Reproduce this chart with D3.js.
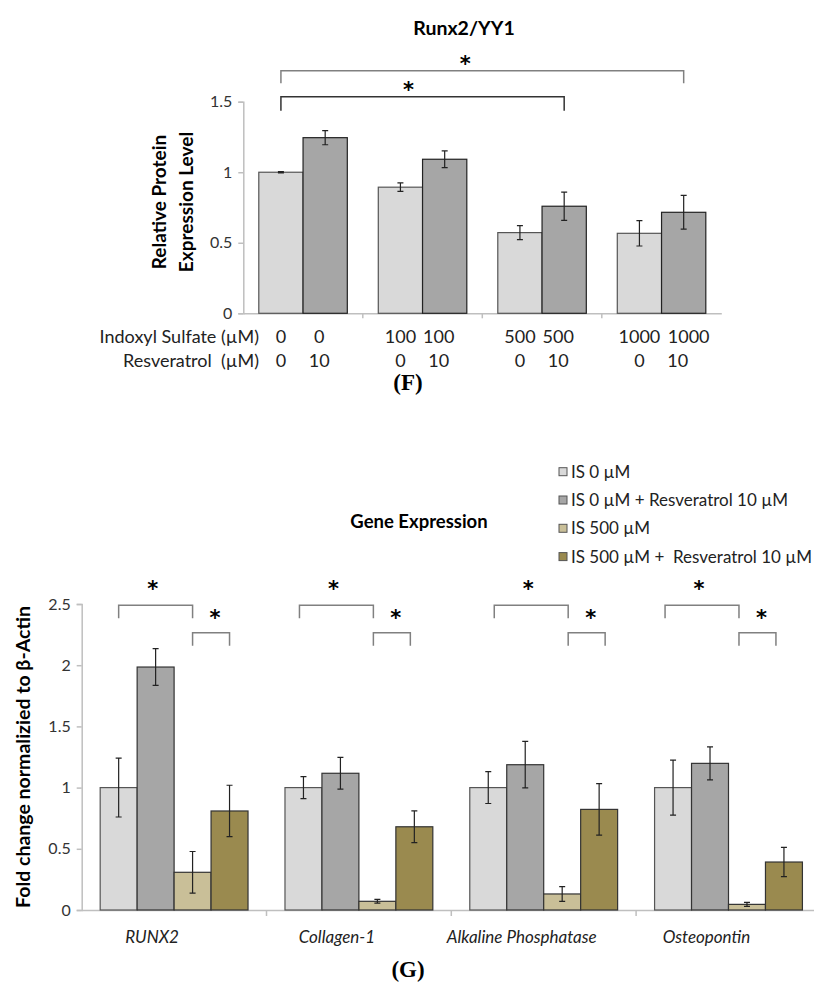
<!DOCTYPE html>
<html>
<head>
<meta charset="utf-8">
<script src="https://cdn.jsdelivr.net/npm/d3@7"></script>
<style>
  body { margin: 0; background: #fff; }
  svg { display: block; font-family: Lato, "Open Sans", sans-serif; }
  .axis path, .axis line { stroke: #bfbfbf; stroke-width: 1.5; }
  .axis text { fill: #333; font-size: 16px; font-family: Lato, sans-serif; }
  .star { font-family: "DejaVu Sans", sans-serif; font-weight: bold; font-size: 21px; }
</style>
</head>
<body>
<svg id="chart" width="814" height="987"></svg>
<script>

// DATA — panel F (Runx2/YY1)
const isLevelsF = ['0', '100', '500', '1000'];
const seriesF = ['IS', 'IS + Resveratrol 10 µM'];
const plainF = [1.0, 0.894, 0.572, 0.567];
const plainErrF = [0.005, 0.03, 0.05, 0.09];
const resvF = [1.245, 1.092, 0.759, 0.716];
const resvErrF = [0.05, 0.06, 0.1, 0.12];
const isRowF = ['0', '0', '100', '100', '500', '500', '1000', '1000'];
const resRowF = ['0', '10', '0', '10', '0', '10', '0', '10'];
const ticksF = [0, 0.5, 1, 1.5];

// DATA — panel G (gene expression)
const genes = ['RUNX2', 'Collagen-1', 'Alkaline Phosphatase', 'Osteopontin'];
const seriesG = ['IS 0 µM', 'IS 0 µM + Resveratrol 10 µM', 'IS 500 µM', 'IS 500 µM +  Resveratrol 10 µM'];
const is0 = [1.0, 1.0, 1.0, 1.0];
const is0Err = [0.24, 0.09, 0.13, 0.225];
const is0Res = [1.985, 1.117, 1.187, 1.198];
const is0ResErr = [0.15, 0.13, 0.19, 0.135];
const is500 = [0.308, 0.071, 0.131, 0.046];
const is500Err = [0.17, 0.015, 0.06, 0.016];
const is500Res = [0.809, 0.68, 0.822, 0.392];
const is500ResErr = [0.21, 0.13, 0.21, 0.12];
const ticksG = [0, 0.5, 1, 1.5, 2, 2.5];

const colorsF = ['#d9d9d9', '#a6a6a6'];
const colorsG = ['#d9d9d9', '#a6a6a6', '#c9bf98', '#9a8a4f'];

// hand-placed annotation nudges (px), as in the original figure
const bracketNudgeG = [0, -4, 6, -8];

const svg = d3.select('#chart');

const errPath = (cx, y0, y1) =>
	`M${cx - 3},${y0}H${cx + 3}M${cx},${y0}V${y1}M${cx - 3},${y1}H${cx + 3}`;

// ---------- panel F ----------

const xF = d3.scaleBand().domain(isLevelsF).range([243.3, 721.3]),
			xF1 = d3.scaleBand().domain(d3.range(seriesF.length)).range([0, xF.bandwidth()]).paddingOuter(0.35),
			yF = d3.scaleLinear().domain([0, 1.5]).range([313.3, 101.7]);

const rowsF = isLevelsF.flatMap((lvl, i) => [
	{ cat: lvl, s: 0, v: plainF[i], e: plainErrF[i] },
	{ cat: lvl, s: 1, v: resvF[i], e: resvErrF[i] }
]);

const gF = svg.append('g');

gF.append('g')
	.attr('class', 'axis')
	.attr('transform', `translate(243.3,0)`)
	.call(d3.axisLeft(yF).tickValues(ticksF).tickFormat(d3.format('')).tickSize(5).tickPadding(6));

gF.append('g')
	.attr('class', 'axis')
	.attr('transform', `translate(0,${yF(0)})`)
	.call(d3.axisBottom(xF).tickValues([]).tickSizeOuter(0))
	.call(g => g.selectAll('.sep')
		.data(isLevelsF.slice(1))
		.join('line')
		.attr('class', 'sep')
		.attr('x1', d => xF(d)).attr('x2', d => xF(d))
		.attr('y1', 0).attr('y2', 5));

const barF = d => xF(d.cat) + xF1(d.s);

gF.selectAll('rect.bar')
	.data(rowsF)
	.join('rect')
	.attr('class', 'bar')
	.attr('x', d => barF(d))
	.attr('width', xF1.bandwidth())
	.attr('y', d => yF(d.v))
	.attr('height', d => yF(0) - yF(d.v))
	.attr('fill', d => colorsF[d.s])
	.attr('stroke', d => d.s ? '#222' : '#555')
	.attr('stroke-width', 1.2);

gF.selectAll('path.err')
	.data(rowsF)
	.join('path')
	.attr('class', 'err')
	.attr('d', d => errPath(barF(d) + xF1.bandwidth() / 2, yF(d.v + d.e), yF(d.v - d.e)))
	.attr('fill', 'none')
	.attr('stroke', '#222')
	.attr('stroke-width', 1.2);

// significance brackets
const bracketsF = [
	{ from: ['0', 0], to: ['1000', 1], level: 1.72, drop: 12.6, starDx: -17, color: '#808080' },
	{ from: ['0', 0], to: ['500', 1], level: 1.535, drop: 14, starDx: -14, color: '#333' }
];
const cF = ([c, s]) => xF(c) + xF1(s) + xF1.bandwidth() / 2;

gF.selectAll('path.br')
	.data(bracketsF)
	.join('path')
	.attr('class', 'br')
	.attr('d', d => `M${cF(d.from)},${yF(d.level) + d.drop}V${yF(d.level)}H${cF(d.to)}V${yF(d.level) + d.drop}`)
	.attr('fill', 'none')
	.attr('stroke', d => d.color)
	.attr('stroke-width', 1.5);

gF.selectAll('text.star')
	.data(bracketsF)
	.join('text')
	.attr('class', 'star')
	.attr('x', d => (cF(d.from) + cF(d.to)) / 2 + d.starDx)
	.attr('y', d => yF(d.level) + 0.5)
	.attr('text-anchor', 'middle')
	.text('*');

gF.append('text')
	.attr('x', 464).attr('y', 35)
	.attr('text-anchor', 'middle')
	.style('font-size', '19.5px').style('font-weight', 'bold')
	.text('Runx2/YY1');

const ylabF = gF.append('text')
	.attr('transform', 'translate(166,202) rotate(-90)')
	.attr('text-anchor', 'middle')
	.style('font-size', '19px').style('font-weight', 'bold');
ylabF.append('tspan').attr('x', 0).attr('dy', 0).text('Relative Protein');
ylabF.append('tspan').attr('x', 0).attr('dy', 26.5).text('Expression Level');

// condition table under the axis
const condRows = [
	{ label: 'Indoxyl Sulfate (µM)', vals: isRowF, y: 343 },
	{ label: 'Resveratrol  (µM)', vals: resRowF, y: 367 }
];
const barCentersF = rowsF.map(d => barF(d) + xF1.bandwidth() / 2);

condRows.forEach(r => {
	gF.append('text')
		.attr('x', 259).attr('y', r.y)
		.attr('text-anchor', 'end')
		.style('font-size', '18px').style('fill', '#222')
		.style('white-space', 'pre')
		.text(r.label);
	gF.selectAll(null)
		.data(r.vals)
		.join('text')
		.attr('x', (d, i) => barCentersF[i] + (i % 2 ? (d.length > 3 ? 5 : -6) : 0))
		.attr('y', r.y)
		.attr('text-anchor', 'middle')
		.style('font-size', '18px').style('fill', '#222')
		.text(d => d);
});

svg.append('text')
	.attr('x', 408).attr('y', 390)
	.attr('text-anchor', 'middle')
	.style('font-family', '"Liberation Serif", serif')
	.style('font-size', '23px').style('font-weight', 'bold')
	.text('(F)');

// ---------- panel G ----------

const xG = d3.scaleBand().domain(genes).range([81.7, 820.9]),
			xG1 = d3.scaleBand().domain(d3.range(seriesG.length)).range([0, xG.bandwidth()]).paddingOuter(0.5),
			yG = d3.scaleLinear().domain([0, 2.5]).range([910, 604]);

const valsG = [is0, is0Res, is500, is500Res],
			errsG = [is0Err, is0ResErr, is500Err, is500ResErr];

const rowsG = genes.flatMap((g, i) => valsG.map((vals, s) => ({ cat: g, s, v: vals[i], e: errsG[s][i] })));

const gG = svg.append('g');

gG.append('g')
	.attr('class', 'axis')
	.attr('transform', 'translate(81.7,0)')
	.call(d3.axisLeft(yG).tickValues(ticksG).tickFormat(d3.format('')).tickSize(5).tickPadding(6));

gG.append('g')
	.attr('class', 'axis')
	.attr('transform', `translate(0,${yG(0)})`)
	.call(d3.axisBottom(xG).tickValues([]).tickSizeOuter(0))
	.call(g => g.selectAll('.sep')
		.data(genes.slice(1))
		.join('line')
		.attr('class', 'sep')
		.attr('x1', d => xG(d)).attr('x2', d => xG(d))
		.attr('y1', 0).attr('y2', 6));

const barG = d => xG(d.cat) + xG1(d.s);

gG.selectAll('rect.bar')
	.data(rowsG)
	.join('rect')
	.attr('class', 'bar')
	.attr('x', d => barG(d))
	.attr('width', xG1.bandwidth())
	.attr('y', d => yG(d.v))
	.attr('height', d => yG(0) - yG(d.v))
	.attr('fill', d => colorsG[d.s])
	.attr('stroke', d => d.s === 0 ? '#555' : '#333')
	.attr('stroke-width', 1.2);

gG.selectAll('path.err')
	.data(rowsG)
	.join('path')
	.attr('class', 'err')
	.attr('d', d => errPath(barG(d) + xG1.bandwidth() / 2, yG(d.v + d.e), yG(d.v - d.e)))
	.attr('fill', 'none')
	.attr('stroke', '#222')
	.attr('stroke-width', 1.2);

// brackets: IS0 vs IS500, and IS500 vs IS500+Res, per gene
const cG = (g, s) => xG(g) + xG1(s) + xG1.bandwidth() / 2 + bracketNudgeG[genes.indexOf(g)];
const bracketsG = genes.flatMap(g => [
	{ a: cG(g, 0), b: cG(g, 2), level: 2.49, drop: 13, starDx: -3, starDy: -9 },
	{ a: cG(g, 2), b: cG(g, 3), level: 2.265, drop: 13, starDx: 4, starDy: -8 }
]);

gG.selectAll('path.br')
	.data(bracketsG)
	.join('path')
	.attr('class', 'br')
	.attr('d', d => `M${d.a},${yG(d.level) + d.drop}V${yG(d.level)}H${d.b}V${yG(d.level) + d.drop}`)
	.attr('fill', 'none')
	.attr('stroke', '#808080')
	.attr('stroke-width', 1.5);

gG.selectAll('text.star')
	.data(bracketsG)
	.join('text')
	.attr('class', 'star')
	.attr('x', d => (d.a + d.b) / 2 + d.starDx)
	.attr('y', d => yG(d.level) + d.starDy)
	.attr('text-anchor', 'middle')
	.text('*');

gG.selectAll('text.cat')
	.data(genes)
	.join('text')
	.attr('class', 'cat')
	.attr('x', d => xG(d) + xG.bandwidth() / 2 - 22)
	.attr('y', 943)
	.attr('text-anchor', 'middle')
	.style('font-size', '17px').style('font-style', 'italic').style('fill', '#222')
	.text(d => d);

gG.append('text')
	.attr('x', 419).attr('y', 528)
	.attr('text-anchor', 'middle')
	.style('font-size', '18.5px').style('font-weight', 'bold')
	.text('Gene Expression');

gG.append('text')
	.attr('transform', 'translate(30,757) rotate(-90)')
	.attr('text-anchor', 'middle')
	.style('font-size', '19.5px').style('font-weight', 'bold')
	.text('Fold change normalizied to β-Actin');

// legend
const leg = gG.selectAll('g.leg')
	.data(seriesG)
	.join('g')
	.attr('class', 'leg')
	.attr('transform', (d, i) => `translate(559,${471.7 + i * 28.3})`);

leg.append('rect')
	.attr('x', 0).attr('y', -4).attr('width', 8).attr('height', 8)
	.attr('fill', (d, i) => colorsG[i])
	.attr('stroke', '#555');

leg.append('text')
	.attr('x', 12).attr('y', 6)
	.style('font-size', '17px').style('fill', '#222')
	.style('white-space', 'pre')
	.text(d => d);

svg.append('text')
	.attr('x', 408).attr('y', 977)
	.attr('text-anchor', 'middle')
	.style('font-family', '"Liberation Serif", serif')
	.style('font-size', '23px').style('font-weight', 'bold')
	.text('(G)');

</script>
</body>
</html>
